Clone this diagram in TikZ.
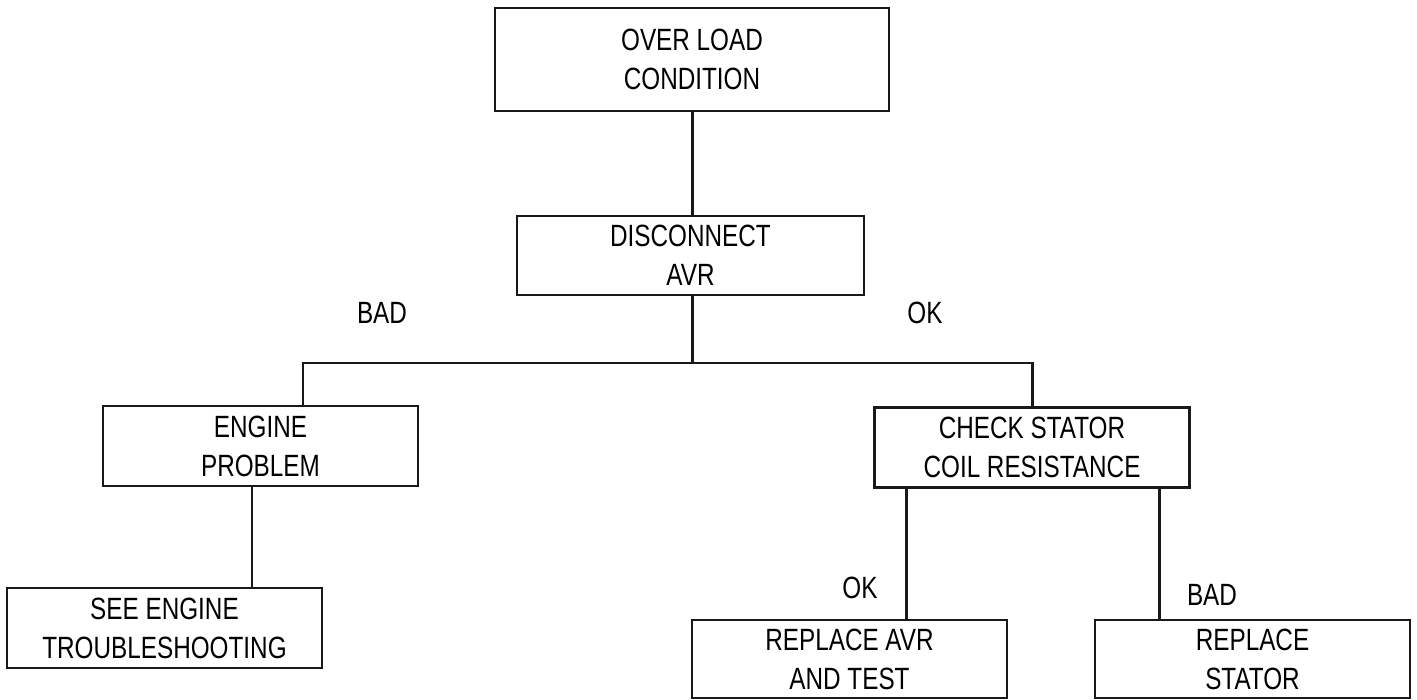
\documentclass[tikz,border=0pt]{standalone}
\usepackage{fontspec}
\setmainfont{Liberation Sans}[FakeStretch=0.79]
\usepackage{tikz}
\usetikzlibrary{positioning, calc}

\begin{document}
\begin{tikzpicture}[
    box/.style={
        rectangle, draw=black!90, line width=1.5pt, align=center,
        minimum width=6.3cm, minimum height=1.6cm, inner sep=2pt,
        font=\fontsize{17.5}{22.2}\selectfont
    },
    link/.style={
        line width=1.7pt, draw=black!90
    },
    answer/.style={
        font=\fontsize{17.5}{22.2}\selectfont, inner sep=1pt
    }
]
\useasboundingbox (0,0) rectangle (28.34,14);

% Row 1 (Top): start condition and first check
\node[box, minimum width=7.88cm, minimum height=2.06cm] (overload) at (13.84,12.81) {OVER LOAD\\CONDITION};
\node[box, minimum width=6.94cm, minimum height=1.58cm] (avr) at (13.81,8.89) {DISCONNECT\\AVR};

% Row 2: the two branches
\node[box] (engine) at (5.21,5.08) {ENGINE\\PROBLEM};
\node[box] (stator) at (20.64,5.05) {CHECK STATOR\\COIL RESISTANCE};

% Row 3 (Bottom): actions
\node[box] (seeengine) at (3.29,1.44) {SEE ENGINE\\TROUBLESHOOTING};
\node[box, minimum height=1.56cm] (replaceavr) at (16.99,0.82) {REPLACE AVR\\AND TEST};
\node[box, minimum height=1.56cm] (replacestator) at (25.05,0.82) {REPLACE\\STATOR};

% Branch points
\coordinate (busL) at (6.06,6.74);
\coordinate (busR) at (20.64,6.74);
\coordinate (enginedrop) at (5.04,0);
\coordinate (okdrop) at (18.12,0);
\coordinate (baddrop) at (23.18,0);

% Connectors
\draw[link] (overload.south -| 13.84,0) -- (13.84,0 |- avr.north);
\draw[link] (13.84,0 |- avr.south) -- (13.84,0 |- busL);
\draw[link] (busL |- engine.north) -- (busL) -- (busR) -- (stator.north);
\draw[link] (enginedrop |- engine.south) -- (enginedrop |- seeengine.north);
\draw[link] (okdrop |- stator.south) -- (okdrop |- replaceavr.north);
\draw[link] (baddrop |- stator.south) -- (baddrop |- replacestator.north);

% Answers
\node[answer] (badtop) at (7.64,7.74) {BAD};
\node[answer] (oktop) at (18.5,7.74) {OK};
\node[answer] (okbottom) at (17.2,2.24) {OK};
\node[answer] (badbottom) at (24.24,2.1) {BAD};

\end{tikzpicture}
\end{document}
